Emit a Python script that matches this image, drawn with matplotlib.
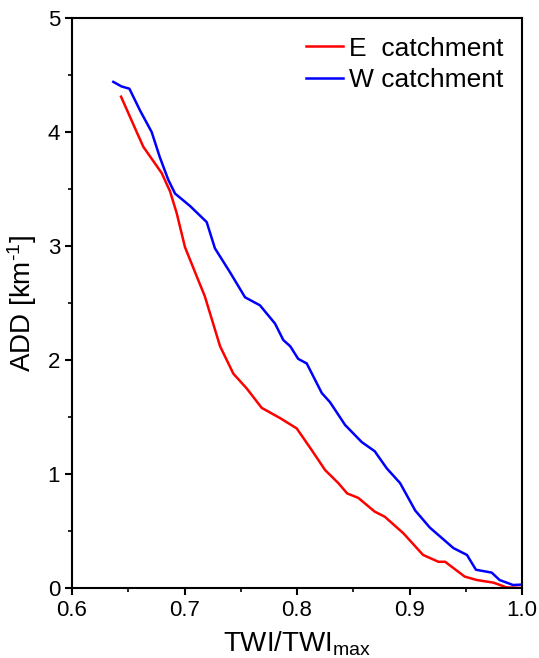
import matplotlib
matplotlib.use("Agg")
import matplotlib.pyplot as plt
from matplotlib.ticker import MultipleLocator

plt.rcParams['font.family'] = ['Liberation Sans', 'DejaVu Sans']
plt.rcParams['mathtext.fontset'] = 'custom'
plt.rcParams['mathtext.rm'] = 'Liberation Sans'
plt.rcParams['mathtext.it'] = 'Liberation Sans'

# E catchment (red)
e_twi = [0.6436, 0.6575, 0.6634, 0.6797, 0.6871, 0.693, 0.7004, 0.711, 0.718,
         0.7316, 0.7434, 0.7553, 0.7686, 0.785, 0.7997, 0.813, 0.8249, 0.8367,
         0.8445, 0.8545, 0.869, 0.878, 0.8945, 0.912, 0.9256, 0.9316, 0.949,
         0.9597, 0.9745, 0.986, 1.0]
e_add = [4.31, 4.00, 3.87, 3.64, 3.48, 3.29, 2.99, 2.73, 2.56,
         2.12, 1.88, 1.75, 1.58, 1.49, 1.40, 1.21, 1.035, 0.92,
         0.83, 0.79, 0.67, 0.625, 0.48, 0.29, 0.23, 0.23, 0.10,
         0.07, 0.047, 0.006, 0.0]

# W catchment (blue)
w_twi = [0.6367, 0.644, 0.651, 0.6604, 0.6708, 0.678, 0.6856, 0.6916, 0.705,
         0.7197, 0.727, 0.7404, 0.7538, 0.767, 0.7804, 0.7878, 0.794, 0.801,
         0.8086, 0.822, 0.8293, 0.8427, 0.8575, 0.869, 0.8797, 0.8916, 0.905,
         0.918, 0.939, 0.951, 0.959, 0.973, 0.980, 0.992, 1.0]
w_add = [4.44, 4.40, 4.38, 4.19, 4.00, 3.78, 3.58, 3.46, 3.35,
         3.21, 2.98, 2.77, 2.55, 2.48, 2.32, 2.175, 2.12, 2.01,
         1.97, 1.71, 1.63, 1.43, 1.28, 1.20, 1.05, 0.92, 0.68,
         0.53, 0.35, 0.29, 0.16, 0.135, 0.07, 0.026, 0.03]

fig = plt.figure(figsize=(5.39, 6.58), dpi=100)
ax = fig.add_axes([0.1336, 0.1064, 0.835, 0.8662])

ax.plot(e_twi, e_add, color='#ff0000', lw=1.8, label='E  catchment')
ax.plot(w_twi, w_add, color='#0000ff', lw=1.8, label='W catchment')

ax.set_xlim(0.6, 1.0)
ax.set_ylim(0, 5)
ax.xaxis.set_major_locator(MultipleLocator(0.1))
ax.xaxis.set_minor_locator(MultipleLocator(0.05))
ax.yaxis.set_major_locator(MultipleLocator(1))
ax.yaxis.set_minor_locator(MultipleLocator(0.5))
ax.xaxis.set_major_formatter(plt.FuncFormatter(lambda v, p: f"{v:.1f}"))

for s in ax.spines.values():
    s.set_linewidth(1.5)
ax.tick_params(which='major', direction='out', length=5, width=1.5, labelsize=16)
ax.tick_params(which='minor', direction='out', length=3, width=1.2)
ax.tick_params(top=False, right=False, which='both')

ax.set_xlabel(r'TWI/TWI$_{\mathrm{max}}$', fontsize=20, labelpad=6)
ax.set_ylabel(r'ADD [km$^{\text{-1}}$]', fontsize=20, labelpad=6)

ax.legend(loc='upper right', frameon=False, fontsize=19, handlelength=1.4,
          handletextpad=0.25, labelspacing=0.3, borderaxespad=0.3)

fig.savefig('out.png', dpi=100)
